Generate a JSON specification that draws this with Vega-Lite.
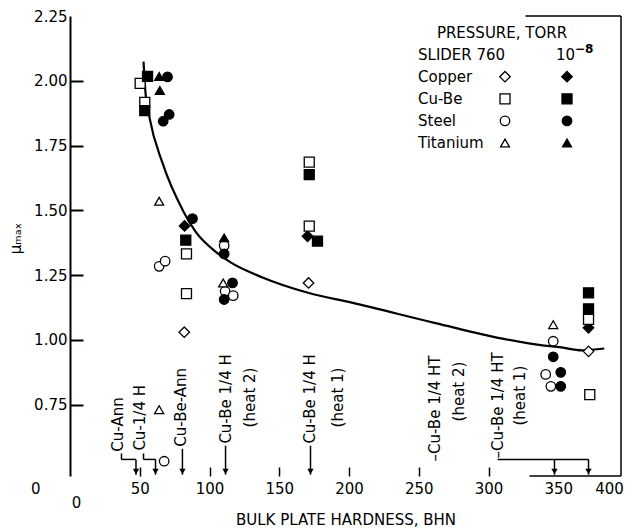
{
  "$schema": "https://vega.github.io/schema/vega-lite/v6.json",
  "width": 558,
  "height": 460,
  "autosize": {"type": "none"},
  "padding": {"left": 70, "top": 16, "right": 2, "bottom": 54},
  "background": "white",
  "config": {
    "view": {"stroke": null},
    "font": "DejaVu Sans",
    "axis": {"labelFont": "DejaVu Sans", "labelFontSize": 15, "labelColor": "black", "titleFont": "DejaVu Sans", "titleFontSize": 15, "titleFontWeight": "normal", "titleColor": "black", "domainColor": "black", "tickColor": "black", "grid": false},
    "text": {"font": "DejaVu Sans", "fontSize": 15, "color": "black"}
  },
  "datasets": {
    "curve": [
      {"H": 52.7, "mu": 2.074}, {"H": 54.1, "mu": 1.955}, {"H": 57, "mu": 1.858}, {"H": 66.3, "mu": 1.683},
      {"H": 81.4, "mu": 1.495}, {"H": 90, "mu": 1.418}, {"H": 104.3, "mu": 1.341}, {"H": 114.3, "mu": 1.302},
      {"H": 138, "mu": 1.241}, {"H": 170, "mu": 1.183}, {"H": 202, "mu": 1.144}, {"H": 262, "mu": 1.065},
      {"H": 310, "mu": 1.005}, {"H": 340, "mu": 0.978}, {"H": 351, "mu": 0.972}, {"H": 367, "mu": 0.96}, {"H": 383, "mu": 0.967}
    ],
    "points": [
      {"slider": "Copper", "pressure": "760", "H": 81.9, "mu": 1.03},
      {"slider": "Copper", "pressure": "760", "H": 171, "mu": 1.22},
      {"slider": "Copper", "pressure": "760", "H": 371.7, "mu": 0.956},
      {"slider": "Copper", "pressure": "10⁻⁸", "H": 82.1, "mu": 1.44},
      {"slider": "Copper", "pressure": "10⁻⁸", "H": 170.3, "mu": 1.40},
      {"slider": "Copper", "pressure": "10⁻⁸", "H": 371.7, "mu": 1.047},
      {"slider": "Cu-Be", "pressure": "760", "H": 50.3, "mu": 1.99},
      {"slider": "Cu-Be", "pressure": "760", "H": 53.6, "mu": 1.917},
      {"slider": "Cu-Be", "pressure": "760", "H": 83.5, "mu": 1.332},
      {"slider": "Cu-Be", "pressure": "760", "H": 83.5, "mu": 1.179},
      {"slider": "Cu-Be", "pressure": "760", "H": 171.5, "mu": 1.686},
      {"slider": "Cu-Be", "pressure": "760", "H": 171.5, "mu": 1.439},
      {"slider": "Cu-Be", "pressure": "760", "H": 371.7, "mu": 1.079},
      {"slider": "Cu-Be", "pressure": "760", "H": 372.6, "mu": 0.789},
      {"slider": "Cu-Be", "pressure": "10⁻⁸", "H": 55.6, "mu": 2.017},
      {"slider": "Cu-Be", "pressure": "10⁻⁸", "H": 53.6, "mu": 1.885},
      {"slider": "Cu-Be", "pressure": "10⁻⁸", "H": 83, "mu": 1.385},
      {"slider": "Cu-Be", "pressure": "10⁻⁸", "H": 171.5, "mu": 1.638},
      {"slider": "Cu-Be", "pressure": "10⁻⁸", "H": 177.4, "mu": 1.381},
      {"slider": "Cu-Be", "pressure": "10⁻⁸", "H": 371.7, "mu": 1.182},
      {"slider": "Cu-Be", "pressure": "10⁻⁸", "H": 371.7, "mu": 1.12},
      {"slider": "Steel", "pressure": "760", "H": 63.9, "mu": 1.284},
      {"slider": "Steel", "pressure": "760", "H": 68.2, "mu": 1.304},
      {"slider": "Steel", "pressure": "760", "H": 110.5, "mu": 1.364},
      {"slider": "Steel", "pressure": "760", "H": 111.2, "mu": 1.188},
      {"slider": "Steel", "pressure": "760", "H": 117, "mu": 1.171},
      {"slider": "Steel", "pressure": "760", "H": 346.4, "mu": 0.995},
      {"slider": "Steel", "pressure": "760", "H": 341, "mu": 0.867},
      {"slider": "Steel", "pressure": "760", "H": 344.7, "mu": 0.821},
      {"slider": "Steel", "pressure": "760", "H": 67.5, "mu": 0.532},
      {"slider": "Steel", "pressure": "10⁻⁸", "H": 69.9, "mu": 2.015},
      {"slider": "Steel", "pressure": "10⁻⁸", "H": 66.8, "mu": 1.844},
      {"slider": "Steel", "pressure": "10⁻⁸", "H": 71.1, "mu": 1.87},
      {"slider": "Steel", "pressure": "10⁻⁸", "H": 87.8, "mu": 1.468},
      {"slider": "Steel", "pressure": "10⁻⁸", "H": 110.5, "mu": 1.332},
      {"slider": "Steel", "pressure": "10⁻⁸", "H": 116.5, "mu": 1.22},
      {"slider": "Steel", "pressure": "10⁻⁸", "H": 110.5, "mu": 1.156},
      {"slider": "Steel", "pressure": "10⁻⁸", "H": 346.4, "mu": 0.935},
      {"slider": "Steel", "pressure": "10⁻⁸", "H": 351.8, "mu": 0.875},
      {"slider": "Steel", "pressure": "10⁻⁸", "H": 351.8, "mu": 0.821},
      {"slider": "Titanium", "pressure": "760", "H": 63.9, "mu": 1.535},
      {"slider": "Titanium", "pressure": "760", "H": 109.8, "mu": 1.22},
      {"slider": "Titanium", "pressure": "760", "H": 346.4, "mu": 1.059},
      {"slider": "Titanium", "pressure": "760", "H": 63.9, "mu": 0.731},
      {"slider": "Titanium", "pressure": "10⁻⁸", "H": 63.9, "mu": 2.017},
      {"slider": "Titanium", "pressure": "10⁻⁸", "H": 64.4, "mu": 1.963},
      {"slider": "Titanium", "pressure": "10⁻⁸", "H": 110.5, "mu": 1.394}
    ],
    "heads": [
      {"H": 47.3, "mu": 0.492}, {"H": 61.3, "mu": 0.492}, {"H": 80.6, "mu": 0.492}, {"H": 111.5, "mu": 0.492},
      {"H": 172.4, "mu": 0.492}, {"H": 347.3, "mu": 0.492}, {"H": 371.7, "mu": 0.492}
    ],
    "segs": [
      {"H": 36.9, "H2": 36.9, "mu": 0.562, "mu2": 0.539},
      {"H": 36.9, "H2": 47.3, "mu": 0.539, "mu2": 0.539},
      {"H": 47.3, "H2": 47.3, "mu": 0.539, "mu2": 0.48},
      {"H": 52.7, "H2": 52.7, "mu": 0.562, "mu2": 0.539},
      {"H": 52.7, "H2": 61.3, "mu": 0.539, "mu2": 0.539},
      {"H": 61.3, "H2": 61.3, "mu": 0.539, "mu2": 0.48},
      {"H": 80.6, "H2": 80.6, "mu": 0.58, "mu2": 0.48},
      {"H": 111.5, "H2": 111.5, "mu": 0.592, "mu2": 0.48},
      {"H": 172.4, "H2": 172.4, "mu": 0.592, "mu2": 0.48},
      {"H": 306.5, "H2": 371.7, "mu": 0.539, "mu2": 0.539},
      {"H": 347.3, "H2": 347.3, "mu": 0.539, "mu2": 0.48},
      {"H": 371.7, "H2": 371.7, "mu": 0.539, "mu2": 0.48},
      {"H": 395, "H2": 395, "mu": 0.475, "mu2": 2.25},
      {"H": 326.5, "H2": 395, "mu": 2.25, "mu2": 2.25},
      {"H": 329.4, "H2": 395, "mu": 0.475, "mu2": 0.475}
    ],
    "annMain": [
      {"label": "Cu-Ann", "H": 34.1, "mu": 0.569},
      {"label": "Cu-1/4 H", "H": 50.5, "mu": 0.573},
      {"label": "Cu-Be-Ann", "H": 79.9, "mu": 0.588},
      {"label": "Cu-Be 1/4 H", "H": 111.5, "mu": 0.6},
      {"label": "Cu-Be 1/4 H", "H": 172.4, "mu": 0.6},
      {"label": "–Cu-Be 1/4 HT", "H": 262, "mu": 0.531},
      {"label": "–Cu-Be 1/4 HT", "H": 306.5, "mu": 0.543}
    ],
    "annHeat": [
      {"label": "(heat 2)", "H": 128.7, "mu": 0.778},
      {"label": "(heat 1)", "H": 191.8, "mu": 0.778},
      {"label": "(heat 2)", "H": 279.2, "mu": 0.801},
      {"label": "(heat 1)", "H": 322.9, "mu": 0.785}
    ],
    "legSym": [
      {"row": "Copper", "slider": "Copper", "pressure": "760"},
      {"row": "Copper", "slider": "Copper", "pressure": "10⁻⁸"},
      {"row": "Cu-Be", "slider": "Cu-Be", "pressure": "760"},
      {"row": "Cu-Be", "slider": "Cu-Be", "pressure": "10⁻⁸"},
      {"row": "Steel", "slider": "Steel", "pressure": "760"},
      {"row": "Steel", "slider": "Steel", "pressure": "10⁻⁸"},
      {"row": "Titanium", "slider": "Titanium", "pressure": "760"},
      {"row": "Titanium", "slider": "Titanium", "pressure": "10⁻⁸"}
    ],
    "legText": [
      {"row": "SLIDER", "label": "SLIDER 760"},
      {"row": "Copper", "label": "Copper"},
      {"row": "Cu-Be", "label": "Cu-Be"},
      {"row": "Steel", "label": "Steel"},
      {"row": "Titanium", "label": "Titanium"}
    ],
    "legHead": [{"row": "PRESSURE, TORR", "label": "PRESSURE, TORR"}],
    "legPow": [{"row": "SLIDER", "label": "10"}],
    "legExp": [{"row": "SLIDER", "label": "−8"}]
  },
  "layer": [
    {
      "encoding": {
        "x": {
          "field": "H", "type": "quantitative",
          "scale": {"domain": [0, 400], "nice": false, "zero": false},
          "axis": {
            "title": "BULK PLATE HARDNESS, BHN",
            "values": [0, 50, 100, 150, 200, 250, 300, 350, 400],
            "domain": false,
            "tickSize": -9, "tickWidth": 1.5,
            "tickOpacity": {"condition": {"test": "datum.value == 0 || datum.value >= 350", "value": 0}, "value": 1},
            "labelPadding": {"condition": {"test": "datum.value == 0", "value": 28}, "value": 14},
            "labelOffset": {"condition": [{"test": "datum.value == 0", "value": 6}, {"test": "datum.value == 400", "value": -19}], "value": 0},
            "labelFlush": false, "labelOverlap": false, "labelBound": false,
            "titleX": 275.5, "titleY": 36, "titleBaseline": "top"
          }
        },
        "y": {
          "field": "mu", "type": "quantitative",
          "scale": {"domain": [0.475, 2.25], "nice": false, "zero": false},
          "axis": {
            "title": "μₘₐₓ",
            "values": [0.475, 0.75, 1, 1.25, 1.5, 1.75, 2, 2.25],
            "labelExpr": "datum.value < 0.6 ? '0' : format(datum.value, '.2f')",
            "tickSize": -13, "tickWidth": 2, "domainWidth": 2,
            "tickOpacity": {"condition": {"test": "datum.value < 0.6 || datum.value > 2.2", "value": 0}, "value": 1},
            "labelPadding": {"condition": {"test": "datum.value < 0.6", "value": 43}, "value": 16},
            "labelOffset": {"condition": {"test": "datum.value < 0.6", "value": 12}, "value": 0},
            "labelFlush": false, "labelOverlap": false, "labelBound": false,
            "titleX": -55, "titleY": 222, "titleAngle": 270, "titleAlign": "center", "titleBaseline": "middle"
          }
        }
      },
      "layer": [
        {"data": {"name": "curve"}, "mark": {"type": "line", "interpolate": "monotone", "color": "black", "strokeWidth": 2.2}},
        {"data": {"name": "segs"}, "mark": {"type": "rule", "color": "black", "strokeWidth": 1.5}, "encoding": {"x2": {"field": "H2"}, "y2": {"field": "mu2"}}},
        {"data": {"name": "heads"}, "mark": {"type": "point", "shape": "triangle-down", "filled": true, "color": "black", "opacity": 1, "size": 40}},
        {"data": {"name": "annMain"}, "mark": {"type": "text", "angle": 270, "align": "left", "baseline": "middle"}, "encoding": {"text": {"field": "label"}}},
        {"data": {"name": "annHeat"}, "mark": {"type": "text", "angle": 270, "align": "center", "baseline": "middle"}, "encoding": {"text": {"field": "label"}}},
        {
          "data": {"name": "points"},
          "mark": {"type": "point", "filled": true, "stroke": "black", "strokeWidth": 1.3, "opacity": 1},
          "encoding": {
            "shape": {"field": "slider", "type": "nominal", "scale": {"domain": ["Copper", "Cu-Be", "Steel", "Titanium"], "range": ["diamond", "square", "circle", "triangle-up"]}, "legend": null},
            "fill": {"field": "pressure", "type": "nominal", "scale": {"domain": ["760", "10⁻⁸"], "range": ["white", "black"]}, "legend": null},
            "size": {"field": "slider", "type": "nominal", "scale": {"domain": ["Copper", "Cu-Be", "Steel", "Titanium"], "range": [110, 80, 70, 80]}, "legend": null}
          }
        }
      ]
    },
    {
      "layer": [
        {
          "data": {"name": "legSym"},
          "mark": {"type": "point", "filled": true, "stroke": "black", "strokeWidth": 1.3, "opacity": 1},
          "encoding": {
            "x": {"field": "pressure", "type": "nominal", "scale": {"type": "point", "domain": ["760", "10⁻⁸"], "range": [435, 497], "padding": 0}, "axis": null},
            "y": {"field": "row", "type": "nominal", "scale": {"type": "point", "domain": ["PRESSURE, TORR", "SLIDER", "Copper", "Cu-Be", "Steel", "Titanium"], "range": [16.5, 127], "padding": 0}, "axis": null},
            "shape": {"field": "slider", "type": "nominal", "scale": {"domain": ["Copper", "Cu-Be", "Steel", "Titanium"], "range": ["diamond", "square", "circle", "triangle-up"]}, "legend": null},
            "fill": {"field": "pressure", "type": "nominal", "scale": {"domain": ["760", "10⁻⁸"], "range": ["white", "black"]}, "legend": null},
            "size": {"field": "slider", "type": "nominal", "scale": {"domain": ["Copper", "Cu-Be", "Steel", "Titanium"], "range": [110, 80, 70, 80]}, "legend": null}
          }
        },
        {
          "data": {"name": "legText"},
          "mark": {"type": "text", "align": "left", "baseline": "middle", "dx": -87},
          "encoding": {"x": {"datum": "760", "type": "nominal"}, "y": {"field": "row", "type": "nominal"}, "text": {"field": "label"}}
        },
        {
          "data": {"name": "legHead"},
          "mark": {"type": "text", "align": "center", "baseline": "middle", "dx": -3},
          "encoding": {"x": {"datum": "760", "type": "nominal"}, "y": {"field": "row", "type": "nominal"}, "text": {"field": "label"}}
        },
        {
          "data": {"name": "legPow"},
          "mark": {"type": "text", "align": "right", "baseline": "middle", "dx": 8},
          "encoding": {"x": {"datum": "10⁻⁸", "type": "nominal"}, "y": {"field": "row", "type": "nominal"}, "text": {"field": "label"}}
        },
        {
          "data": {"name": "legExp"},
          "mark": {"type": "text", "align": "left", "baseline": "middle", "dx": 8, "dy": -6, "fontSize": 12, "fontWeight": "bold"},
          "encoding": {"x": {"datum": "10⁻⁸", "type": "nominal"}, "y": {"field": "row", "type": "nominal"}, "text": {"field": "label"}}
        }
      ]
    }
  ],
  "resolve": {"scale": {"x": "independent", "y": "independent"}}
}
